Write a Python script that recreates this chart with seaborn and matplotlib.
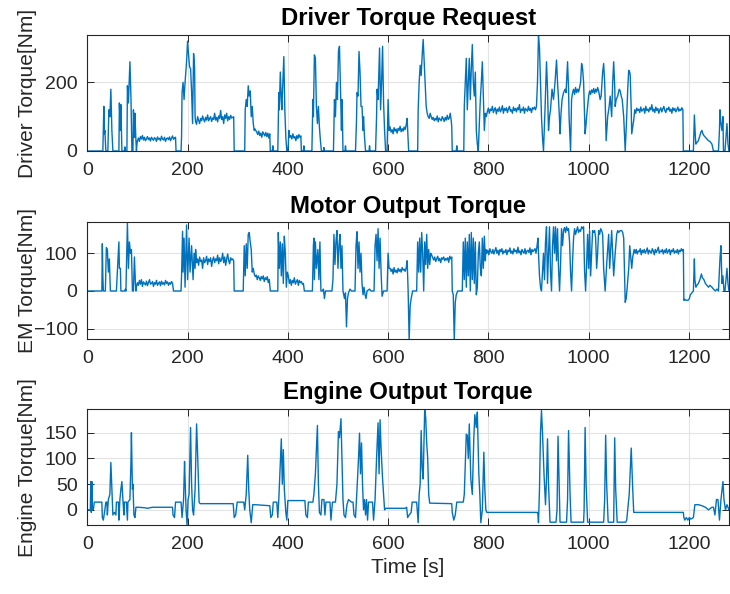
import matplotlib
matplotlib.use("Agg")
import matplotlib.pyplot as plt
import seaborn as sns
import pandas as pd

# ---------------- data ----------------
time_ticks = [0, 200, 400, 600, 800, 1000, 1200]
titles = ["Driver Torque Request", "Motor Output Torque", "Engine Output Torque"]
ylabels = ["Driver Torque[Nm]", "EM Torque[Nm]", "Engine Torque[Nm]"]
yticks = [[0, 200], [-100, 0, 100], [0, 50, 100, 150]]
ylims = [(0, 338), (-128, 182), (-30, 196)]
PLATEAU_STEP = 2  # seconds between samples inside noisy plateaus

driver_knots = [
    (0, 0), (31, 0), (33, 130), (34, 50), (35, 60), (37, 0), (41, 0), (43, 120), (45, 100), (47, 180),
    (49, 60), (51, 0), (63, 0), (64, 140), (66, 60), (67, 135), (69, 0), (74, 0), (75, 12), (76, 0),
    (79, 0), (80, 190), (82, 140), (85, 260), (87, 160), (89, 0), (91, 0), (92, 120), (94, 40), (95, 110),
    (97, 30), (98, 0), (99, 20),
    (176, 40), (177, 0), (187, 0), (188, 40), (189, 170), (191, 200), (193, 150), (195, 200), (198, 260),
    (200, 320), (202, 280), (204, 245), (206, 240), (208, 175), (210, 80), (212, 284), (214, 245), (215, 100),
    (292, 100), (293, 0), (314, 0), (315, 120), (317, 150), (319, 130), (321, 190), (323, 160), (325, 175),
    (327, 100), (329, 130), (331, 80), (333, 60), (334, 65),
    (365, 0), (369, 0), (370, 15), (371, 0), (380, 0), (382, 170), (383, 120), (385, 230), (387, 150),
    (388, 120), (390, 200), (392, 275), (394, 120), (396, 40), (398, 0), (400, 0), (401, 20),
    (427, 0), (431, 0), (432, 15), (433, 0), (448, 0), (450, 150), (451, 100), (453, 280), (455, 270),
    (457, 130), (459, 80), (461, 130), (463, 70), (465, 30), (467, 0), (471, 0), (472, 10), (473, 0),
    (491, 0), (493, 150), (495, 100), (497, 200), (499, 150), (501, 290), (503, 305), (505, 180), (507, 60),
    (508, 150), (509, 90), (510, 0), (514, 0), (515, 15), (516, 0), (535, 0), (537, 90), (538, 170),
    (540, 160), (542, 290), (544, 230), (546, 130), (548, 130), (550, 60), (551, 100), (553, 40), (555, 0),
    (562, 0), (563, 15), (564, 0), (575, 0), (577, 100), (578, 180), (580, 150), (583, 300), (585, 120),
    (587, 200), (589, 305), (591, 140), (593, 60), (595, 0), (598, 0), (600, 150), (602, 60),
    (641, 0), (659, 0), (660, 120), (662, 200), (664, 250), (666, 220), (668, 280), (670, 325), (672, 260),
    (674, 200), (676, 130), (678, 110), (680, 100), (682, 95),
    (727, 70), (728, 0), (736, 0), (737, 15), (738, 0), (751, 0), (752, 130), (754, 200), (756, 270),
    (758, 120), (760, 200), (762, 270), (764, 150), (766, 240), (768, 310), (770, 200), (772, 160),
    (774, 230), (776, 60), (778, 20), (780, 0), (782, 80), (784, 150), (786, 200), (788, 260), (790, 160),
    (792, 60), (794, 110), (796, 100),
    (898, 200), (900, 335), (902, 300), (904, 200), (906, 100), (908, 40), (910, 0), (912, 80), (913, 120),
    (916, 260), (918, 180), (920, 60), (922, 100), (924, 120), (927, 180), (930, 150), (933, 200),
    (936, 265), (938, 200), (940, 150), (942, 90), (943, 50), (945, 110), (947, 150), (950, 170), (953, 180),
    (955, 170), (958, 260), (960, 180), (961, 100), (963, 30), (964, 0), (966, 150), (968, 170), (970, 180),
    (972, 165), (974, 185), (976, 170), (978, 180), (980, 172), (982, 185), (984, 200), (986, 255),
    (988, 240), (990, 200), (992, 100), (993, 50), (995, 80), (996, 100), (998, 130), (1000, 160),
    (1002, 175), (1004, 165), (1006, 178), (1008, 170), (1010, 182), (1012, 168), (1014, 180), (1016, 172),
    (1018, 185), (1020, 175), (1023, 150), (1025, 160), (1028, 230), (1030, 255), (1032, 200), (1033, 150),
    (1035, 30), (1037, 80), (1038, 100), (1041, 130), (1043, 160), (1045, 120), (1046, 100), (1048, 200),
    (1050, 260), (1052, 190), (1053, 130), (1055, 150), (1058, 160), (1061, 180), (1063, 175), (1065, 160),
    (1067, 150), (1070, 100), (1073, 0), (1076, 100), (1078, 180), (1080, 235), (1082, 230), (1083, 220),
    (1085, 120), (1086, 50), (1088, 70), (1090, 90), (1092, 120),
    (1189, 0), (1209, 0), (1211, 105), (1213, 40), (1214, 20), (1216, 25), (1219, 30), (1222, 45),
    (1224, 55), (1226, 60), (1228, 50), (1230, 45), (1233, 40), (1236, 35), (1239, 30), (1242, 28),
    (1246, 20), (1249, 0), (1259, 0), (1261, 60), (1262, 120), (1264, 80), (1266, 60), (1268, 100),
    (1269, 0), (1272, 0), (1274, 40), (1276, 80), (1278, 20), (1280, 0),
]
driver_plateaus = {
    100: [30, 38, 28, 42, 35, 45, 32, 40, 30, 36, 42, 33, 38, 29, 40, 35, 31, 39, 36, 28,
          41, 34, 37, 30, 43, 35, 32, 40, 28, 36, 38, 33, 41, 30, 37, 44, 34, 38],
    216: [85, 78, 100, 90, 80, 95, 88, 102, 92, 85, 98, 90, 105, 88, 95, 100, 86, 96, 92, 110,
          90, 98, 85, 102, 95, 118, 92, 100, 80, 105, 95, 110, 88, 100, 92, 104, 96, 98],
    336: [60, 55, 48, 58, 45, 52, 40, 56, 50, 44, 54, 42, 52, 38, 50],
    402: [60, 40, 45, 35, 50, 38, 42, 30, 45, 36, 48, 40, 44],
    604: [70, 55, 62, 50, 68, 58, 64, 52, 66, 60, 72, 56, 65, 58, 70, 62, 75, 95],
    684: [110, 100, 92, 98, 88, 95, 90, 102, 85, 96, 92, 88, 100, 94, 86, 98, 90, 104, 92, 96, 110, 88],
    798: [115, 125, 110, 122, 118, 130, 112, 120, 126, 108, 122, 116, 128, 114, 120, 132, 110, 124, 118, 126,
          112, 122, 130, 116, 120, 110, 128, 118, 124, 114, 126, 120, 135, 112, 122, 118, 128, 110, 124, 120,
          116, 130, 118, 124, 112, 126, 122, 128, 120, 130],
    1094: [110, 125, 118, 122, 112, 128, 116, 120, 124, 110, 130, 118, 122, 114, 126, 120, 135, 116, 122, 112,
           128, 118, 124, 110, 120, 126, 114, 122, 130, 118, 112, 124, 120, 128, 116, 122, 110, 126, 118, 124,
           114, 120, 128, 116, 122, 118, 126, 120],
}

em_knots = [
    (0, 0), (29, 0), (30, 125), (31, 40), (32, 0), (36, 0), (38, 115), (40, 110), (42, 50), (44, 85),
    (46, 0), (58, 0), (63, 130), (64, 60), (66, 60), (67, 0), (75, 0), (76, 5), (77, 0), (80, 180),
    (82, 60), (84, 130), (86, 100), (88, 110), (90, 0), (92, 0), (94, 90), (96, 20), (97, 0),
    (172, 0), (187, 0), (188, 40), (190, 158), (191, 50), (193, 140), (195, 10), (198, 175), (200, 30),
    (203, 140), (205, 50), (208, 120), (211, 30), (213, 100), (215, 60), (216, 110),
    (292, 80), (293, 0), (311, 0), (313, 120), (315, 40), (317, 125), (319, 60), (321, 150), (323, 155),
    (325, 130), (327, 110), (329, 50), (331, 60),
    (365, 0), (380, 0), (381, 155), (383, 60), (385, 130), (387, 40), (389, 125), (391, 20), (393, 145),
    (395, 100), (397, 10), (399, 50),
    (433, 0), (449, 0), (451, 120), (452, 140), (453, 30), (455, 130), (457, 60), (460, 110), (462, 30),
    (464, 130), (466, 0), (469, 0), (471, 5), (473, -20), (475, 0), (488, 0), (490, 30), (492, 150),
    (494, 70), (496, 130), (498, 160), (500, 60), (502, 120), (504, 150), (506, 60), (508, 120), (510, 0),
    (513, -20), (515, -5), (517, -95), (519, -20), (521, -5), (524, 5), (527, 0), (534, 0), (536, 120),
    (538, 157), (540, 60), (542, 130), (544, 50), (546, 100), (548, 20), (550, -10), (552, 10), (554, -10),
    (556, -20), (558, 0), (563, 5), (566, 0), (572, 0), (574, 120), (576, 150), (578, 80), (580, 165),
    (582, 60), (584, 140), (586, 50), (588, -14), (591, 0), (598, 0), (600, 100), (602, 60),
    (640, 0), (642, -130), (644, -40), (646, -20), (649, 0), (657, 0), (659, 130), (661, 50), (663, 140),
    (665, 50), (667, 155), (669, 100), (671, 0), (673, 130), (675, 70), (677, 150), (679, 60), (681, 110),
    (683, 70), (685, 100),
    (728, 0), (730, -10), (732, -130), (734, -30), (736, -10), (739, 0), (748, 0), (750, 130), (752, 30),
    (754, 140), (756, 10), (758, 130), (760, 40), (762, 150), (764, 0), (766, 155), (768, 30), (770, 140),
    (772, 20), (774, 130), (776, -10), (778, 10), (780, 100), (782, 130), (784, 60), (786, 40), (788, 140),
    (790, 60), (792, 145), (794, 80), (795, 110),
    (899, 140), (900, 100), (902, 40), (904, 10), (906, 0), (908, 50), (910, 100), (912, 30), (914, 130),
    (916, 170), (918, 20), (920, 100), (922, 170), (924, 50), (926, 0), (928, 120), (930, 170), (932, 100),
    (934, 170), (936, 80), (938, 165), (940, 60), (942, 0), (944, 70), (946, 165), (948, 120), (950, 160),
    (952, 168), (954, 155), (956, 170), (958, 160), (960, 165), (962, 130), (964, 50), (966, 0), (968, 80),
    (970, 140), (972, 165), (974, 150), (976, 160), (978, 170), (980, 155), (982, 162), (984, 158),
    (986, 170), (988, 165), (990, 170), (992, 50), (994, 0), (996, 70), (998, 150), (1000, 60), (1002, 160),
    (1004, 40), (1006, 100), (1008, 160), (1010, 155), (1012, 160), (1014, 140), (1016, 60), (1018, 100),
    (1020, 160), (1022, 150), (1024, 165), (1026, 160), (1028, 150), (1030, 60), (1033, 0), (1036, 70),
    (1040, 150), (1042, 60), (1046, 160), (1050, 40), (1053, 100), (1056, 150), (1058, 160), (1060, 155),
    (1063, 160), (1066, 160), (1068, 155), (1070, 140), (1073, -30), (1075, -20), (1077, 10), (1080, 60),
    (1082, 120), (1084, 90), (1086, 60), (1088, 90), (1091, 110),
    (1190, -25), (1192, -22), (1195, -25), (1199, -24), (1201, -20), (1203, -10), (1206, -5), (1209, 0),
    (1211, 85), (1212, 30), (1214, 10), (1216, 15), (1219, 20), (1222, 30), (1225, 45), (1227, 35),
    (1230, 30), (1233, 20), (1236, 15), (1239, 10), (1242, 15), (1246, 10), (1249, 5), (1253, 0),
    (1256, 5), (1259, 0), (1262, 85), (1264, 120), (1266, 20), (1268, 40), (1270, 0), (1272, 0),
    (1274, 30), (1276, 60), (1278, 20), (1280, 0),
]
em_plateaus = {
    98: [10, 22, 15, 28, 18, 30, 12, 24, 20, 16, 26, 14, 22, 30, 18, 20, 25, 12, 22, 18,
         28, 15, 20, 24, 14, 26, 18, 22, 16, 28, 20, 24, 15, 22, 18, 25, 20],
    218: [75, 85, 68, 90, 78, 82, 60, 88, 75, 80, 92, 70, 85, 78, 88, 65, 82, 90, 75, 85,
          80, 95, 72, 88, 78, 84, 100, 75, 90, 68, 85, 98, 80, 72, 88, 82, 85],
    333: [45, 38, 42, 30, 40, 35, 28, 38, 32, 40, 25, 35, 30, 38, 22, 30],
    401: [40, 20, 30, 15, 28, 22, 35, 18, 25, 30, 15, 28, 22, 25, 18, 20],
    604: [60, 52, 58, 45, 62, 50, 55, 48, 60, 52, 57, 50, 62, 55, 58, 52, 60, 80],
    687: [95, 88, 82, 90, 78, 85, 92, 80, 86, 75, 88, 84, 90, 80, 86, 82, 88, 76, 92, 85, 90],
    797: [100, 108, 96, 112, 104, 100, 110, 98, 106, 115, 100, 108, 95, 110, 104, 112, 98, 106, 102, 110,
          96, 108, 104, 114, 100, 106, 98, 112, 104, 108, 100, 116, 102, 106, 96, 110, 104, 100, 112, 98,
          106, 108, 102, 114, 96, 110, 104, 108, 112, 100, 118],
    1093: [100, 110, 98, 106, 104, 112, 96, 108, 102, 110, 100, 106, 114, 98, 108, 104, 100, 112, 106, 96,
           110, 102, 108, 116, 100, 106, 104, 110, 98, 108, 102, 112, 100, 106, 110, 96, 108, 104, 112, 100,
           106, 102, 110, 98, 108, 104, 112, 106, 110],
}

engine_knots = [
    (0, 0), (6, 0), (7, 55), (8, -5), (9, 55), (10, 0), (12, 0), (14, 15), (29, 15), (30, -15),
    (32, -20), (35, 0), (37, 15), (39, 15), (40, -10), (42, 20), (45, 30), (47, 92), (49, 40), (51, -10),
    (54, -5), (57, -10), (58, 15), (62, 15), (63, -20), (65, 20), (67, 40), (69, 55), (71, 20), (73, -10),
    (74, 15), (78, 15), (80, -20), (81, 15), (85, 20), (87, 90), (88, 150), (90, 40), (91, 50), (93, -10),
    (95, -15), (97, 5), (102, 5), (115, 4), (120, 3), (130, 5), (150, 5), (170, 5), (171, -10), (174, -15),
    (176, 15), (187, 15), (189, -15), (192, 20), (194, 94), (195, 60), (197, 0), (199, -30), (201, 20),
    (203, 30), (206, 160), (208, 50), (210, 0), (212, -10), (215, 40), (218, 167), (220, 110), (223, 15),
    (225, 12), (291, 12), (293, -15), (296, -10), (299, 15), (312, 15), (314, 0), (317, 30), (320, 106),
    (322, 40), (324, 0), (327, -25), (330, 10), (335, 10), (350, 9), (364, 8), (366, -15), (369, -10),
    (371, 15), (378, 15), (380, -15), (382, 20), (385, 90), (387, 138), (389, 50), (391, 117), (393, 40),
    (396, -5), (398, -20), (400, 18), (434, 18), (436, -10), (439, -15), (441, 15), (450, 15), (452, 30),
    (455, 70), (459, 164), (461, 50), (463, -5), (466, -10), (468, 20), (472, 20), (474, -10), (476, 15),
    (484, 15), (486, -20), (489, 15), (495, 15), (498, 50), (501, 152), (503, 140), (506, 177), (508, 100),
    (510, 20), (512, -10), (515, -15), (518, 10), (521, 20), (527, 15), (530, 15), (532, -10), (535, -15),
    (538, 40), (541, 100), (543, 149), (545, 70), (547, 130), (549, 50), (551, 0), (553, 20), (555, -10),
    (557, 20), (559, -20), (561, 15), (569, 15), (571, -20), (574, 20), (577, 100), (580, 169), (582, 70),
    (584, 175), (586, 120), (589, 60), (593, 0), (595, 3), (634, 3), (637, 5), (639, -15), (642, -10),
    (646, -5), (648, 15), (657, 15), (660, -25), (662, 30), (664, 50), (666, 154), (668, 80), (670, 60),
    (673, 195), (675, 180), (677, 130), (679, 100), (681, 30), (683, 13), (727, 12), (728, -5), (731, -20),
    (734, -10), (737, 15), (750, 15), (752, 30), (756, 147), (758, 145), (760, 100), (762, 167), (765, 60),
    (768, 30), (771, 140), (773, 185), (776, 160), (778, 190), (781, 70), (783, 30), (785, -25), (788, 0),
    (791, 112), (793, 40), (795, 0), (797, -5), (898, -5), (899, -10), (900, -25), (902, 40), (904, 150),
    (906, 193), (908, 150), (911, 70), (914, 10), (916, 60), (918, 138), (920, 50), (923, -24), (935, -24),
    (937, 0), (939, 143), (941, 60), (943, -24), (956, -24), (958, 20), (960, 154), (963, 30), (965, -24),
    (990, -24), (991, 0), (993, 160), (995, 50), (998, -24), (1030, -24), (1032, 20), (1034, 145),
    (1036, 50), (1039, -24), (1050, -24), (1052, 140), (1054, 40), (1057, -24), (1074, -24), (1076, -20),
    (1078, 0), (1081, 30), (1085, 120), (1088, 40), (1090, -5), (1189, -5), (1190, -15), (1192, -20),
    (1195, -15), (1198, -20), (1201, -15), (1204, -18), (1209, -15), (1212, 10), (1219, 10), (1226, 8),
    (1233, 5), (1239, 0), (1246, 5), (1249, 5), (1252, -10), (1255, 20), (1258, 20), (1261, -20),
    (1264, 20), (1268, 55), (1270, 20), (1273, 0), (1276, 10), (1280, 0),
]
engine_plateaus = {}


def build(knots, plateaus):
    pts = list(knots)
    for start, vals in plateaus.items():
        for i, v in enumerate(vals):
            pts.append((start + PLATEAU_STEP * i, v))
    pts.sort(key=lambda p: p[0])
    return pd.DataFrame(pts, columns=["Time", "Torque"])


frames = [build(driver_knots, driver_plateaus),
          build(em_knots, em_plateaus),
          build(engine_knots, engine_plateaus)]

# ---------------- style ----------------
sns.set_theme(style="white")
plt.rcParams["font.family"] = ["Liberation Sans", "DejaVu Sans"]
dark = "#262626"
line_color = "#0072BD"

fig = plt.figure(figsize=(7.30, 5.94), dpi=100)
positions = [
    [0.1196, 0.7458, 0.8790, 0.1953],
    [0.1196, 0.4288, 0.8790, 0.1970],
    [0.1196, 0.1157, 0.8790, 0.1958],
]

for i, df in enumerate(frames):
    ax = fig.add_axes(positions[i])
    sns.lineplot(data=df, x="Time", y="Torque", ax=ax, color=line_color,
                 linewidth=1.0, estimator=None, sort=False)
    ax.set_xlim(0, 1280)
    ax.set_ylim(*ylims[i])
    ax.set_xticks(time_ticks)
    ax.set_yticks(yticks[i])
    ax.grid(True, color="#e3e3e3", linewidth=0.8)
    ax.set_axisbelow(True)
    for s in ax.spines.values():
        s.set_color(dark)
        s.set_linewidth(0.8)
        s.set_visible(True)
    ax.tick_params(direction="in", length=5, width=0.7, color=dark,
                   labelcolor=dark, labelsize=14, top=True, right=True,
                   bottom=True, left=True)
    ax.tick_params(axis="x", pad=8)
    ax.tick_params(axis="y", pad=7)
    ax.set_title(titles[i], fontsize=17.2, fontweight="bold", color="black", pad=7)
    ax.set_ylabel(ylabels[i], fontsize=15, color=dark)
    ax.yaxis.set_label_coords(-0.078, 0.5)
    if i == 2:
        ax.set_xlabel("Time [s]", fontsize=15, color=dark, labelpad=3)
    else:
        ax.set_xlabel("")

fig.savefig("out.png", dpi=100)
